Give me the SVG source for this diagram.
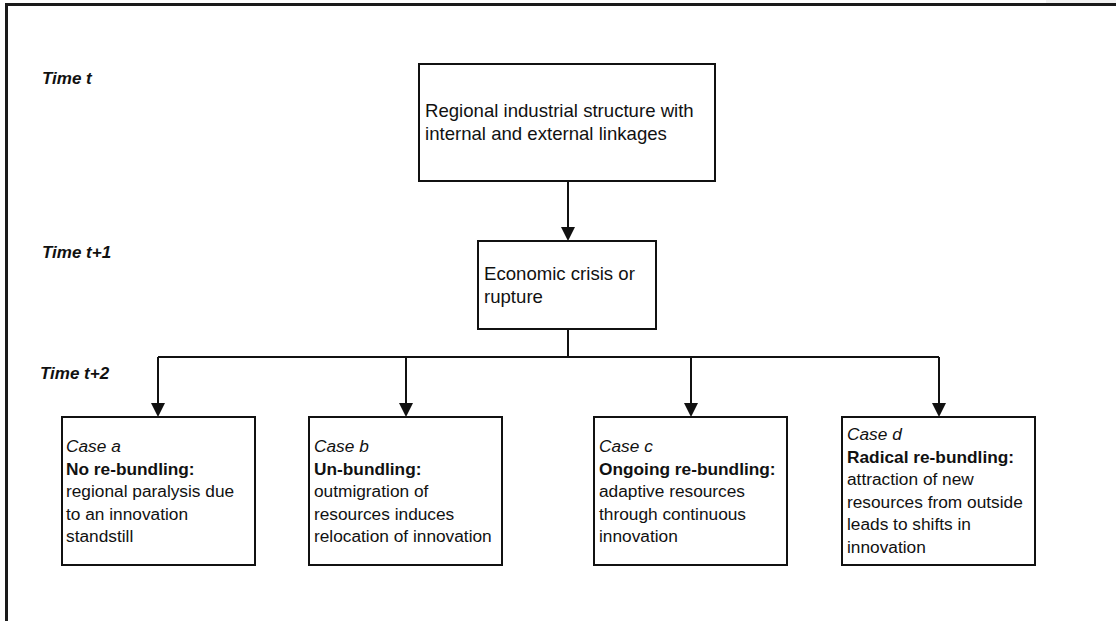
<svg xmlns="http://www.w3.org/2000/svg" width="1116" height="621" viewBox="0 0 1116 621">
<defs>
<style>
.box{fill:#fff;stroke:#111;stroke-width:2}
.t{font-family:"Liberation Sans",Arial,sans-serif;fill:#111}
.big{font-size:18.6px}
.sm{font-size:17.3px}
.time{font-size:17px;font-weight:bold;font-style:italic}
.it{font-style:italic}
.b{font-weight:bold}
.con{fill:none;stroke:#111;stroke-width:2}
</style>
<marker id="ah" viewBox="0 0 14 14" refX="0" refY="7" markerWidth="14" markerHeight="14" markerUnits="userSpaceOnUse" orient="auto">
<path d="M0,0 L14,7 L0,14 z" fill="#111"/>
</marker>
</defs>
<rect x="0" y="0" width="1116" height="621" fill="#fff"/>
<rect x="1046" y="0" width="70" height="3" fill="#f2f2f2"/>
<g id="frame">
<line x1="5" y1="4.5" x2="1116" y2="4.5" stroke="#1a1a1a" stroke-width="3"/>
<line x1="6.5" y1="3" x2="6.5" y2="621" stroke="#1a1a1a" stroke-width="3"/>
</g>
<g id="time-labels">
<text class="t time" x="42" y="84">Time t</text>
<text class="t time" x="42" y="258">Time t+1</text>
<text class="t time" x="40" y="379">Time t+2</text>
</g>
<g id="connectors">
<path class="con" d="M568,181 V227" marker-end="url(#ah)"/>
<path class="con" d="M568,329 V357"/>
<path class="con" d="M158,357 H939"/>
<path class="con" d="M158,357 V403" marker-end="url(#ah)"/>
<path class="con" d="M406,357 V403" marker-end="url(#ah)"/>
<path class="con" d="M691,357 V403" marker-end="url(#ah)"/>
<path class="con" d="M939,357 V403" marker-end="url(#ah)"/>
</g>
<g id="node-structure">
<rect class="box" x="419" y="64" width="296" height="117"/>
<text class="t big" x="425" y="117">Regional industrial structure with</text>
<text class="t big" x="425" y="140">internal and external linkages</text>
</g>
<g id="node-crisis">
<rect class="box" x="478" y="241" width="178" height="88"/>
<text class="t big" x="484" y="280">Economic crisis or</text>
<text class="t big" x="484" y="303">rupture</text>
</g>
<g id="node-case-a">
<rect class="box" x="62" y="417" width="193" height="148"/>
<text class="t sm" x="66" y="452"><tspan class="it">Case a</tspan><tspan class="b" x="66" dy="22.5">No re-bundling:</tspan><tspan x="66" dy="22.5">regional paralysis due</tspan><tspan x="66" dy="22.5">to an innovation</tspan><tspan x="66" dy="22.5">standstill</tspan></text>
</g>
<g id="node-case-b">
<rect class="box" x="309" y="417" width="193" height="148"/>
<text class="t sm" x="314" y="452"><tspan class="it">Case b</tspan><tspan class="b" x="314" dy="22.5">Un-bundling:</tspan><tspan x="314" dy="22.5">outmigration of</tspan><tspan x="314" dy="22.5">resources induces</tspan><tspan x="314" dy="22.5">relocation of innovation</tspan></text>
</g>
<g id="node-case-c">
<rect class="box" x="594" y="417" width="193" height="148"/>
<text class="t sm" x="599" y="452"><tspan class="it">Case c</tspan><tspan class="b" x="599" dy="22.5">Ongoing re-bundling:</tspan><tspan x="599" dy="22.5">adaptive resources</tspan><tspan x="599" dy="22.5">through continuous</tspan><tspan x="599" dy="22.5">innovation</tspan></text>
</g>
<g id="node-case-d">
<rect class="box" x="842" y="417" width="193" height="148"/>
<text class="t sm" x="847" y="440"><tspan class="it">Case d</tspan><tspan class="b" x="847" dy="22.5">Radical re-bundling:</tspan><tspan x="847" dy="22.5">attraction of new</tspan><tspan x="847" dy="22.5">resources from outside</tspan><tspan x="847" dy="22.5">leads to shifts in</tspan><tspan x="847" dy="22.5">innovation</tspan></text>
</g>
</svg>
